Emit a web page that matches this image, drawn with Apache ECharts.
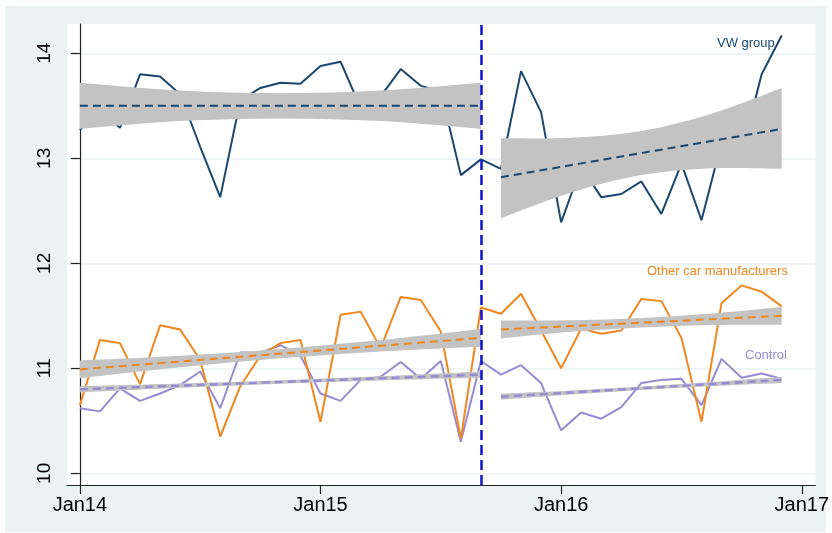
<!DOCTYPE html>
<html>
<head>
<meta charset="utf-8">
<script src="https://cdn.jsdelivr.net/npm/echarts@6/dist/echarts.min.js"></script>
<style>
html, body { margin: 0; padding: 0; background: #fff; }
#container { width: 832px; height: 533px; }
</style>
</head>
<body>
<div id="container"></div>
<script>
// months since Jan14 (0 = Jan14 ... 35 = Dec16)
var months = [0, 1, 2, 3, 4, 5, 6, 7, 8, 9, 10, 11, 12, 13, 14, 15, 16, 17,
              18, 19, 20, 21, 22, 23, 24, 25, 26, 27, 28, 29, 30, 31, 32, 33, 34, 35];

var vwGroup = [13.27, 13.45, 13.29, 13.80, 13.78, 13.61, 13.11, 12.63, 13.55, 13.67, 13.72, 13.71,
               13.88, 13.92, 13.48, 13.59, 13.85, 13.69, 13.64, 12.84, 12.99, 12.90, 13.83, 13.44,
               12.39, 12.92, 12.63, 12.66, 12.78, 12.47, 12.95, 12.41, 13.15, 13.05, 13.80, 14.17];

var otherCars = [10.65, 11.27, 11.24, 10.85, 11.41, 11.37, 11.08, 10.35, 10.83, 11.12, 11.24, 11.27,
                 10.49, 11.51, 11.54, 11.19, 11.68, 11.65, 11.35, 10.33, 11.58, 11.52, 11.71, 11.36,
                 11.00, 11.38, 11.33, 11.36, 11.66, 11.64, 11.29, 10.49, 11.62, 11.79, 11.73, 11.59];

var control = [10.62, 10.59, 10.81, 10.69, 10.76, 10.84, 10.97, 10.62, 11.15, 11.15, 11.22, 11.12,
               10.76, 10.69, 10.89, 10.92, 11.06, 10.90, 11.07, 10.30, 11.07, 10.94, 11.03, 10.86,
               10.41, 10.58, 10.52, 10.63, 10.86, 10.89, 10.90, 10.65, 11.09, 10.91, 10.95, 10.90];

// linear fits: [start month, end month] and fitted values at them
var preMonths = [0, 20];
var postMonths = [21, 35];
var vwPreFit = [13.50, 13.50];
var vwPostFit = [12.82, 13.28];
var otherPreFit = [10.99, 11.29];
var otherPostFit = [11.37, 11.50];
var controlPreFit = [10.80, 10.94];
var controlPostFit = [10.73, 10.89];

// confidence bands, read at these months
var preBandMonths = [0, 5, 10, 15, 20];
var postBandMonths = [21, 24.5, 28, 31.5, 35];
var vwPreLo = [13.28, 13.355, 13.38, 13.355, 13.28];
var vwPreHi = [13.72, 13.645, 13.62, 13.645, 13.72];
var vwPostLo = [12.43, 12.675, 12.84, 12.905, 12.90];
var vwPostHi = [13.19, 13.195, 13.26, 13.425, 13.67];
var otherPreLo = [10.905, 11.01, 11.095, 11.16, 11.205];
var otherPreHi = [11.075, 11.12, 11.185, 11.27, 11.375];
var otherPostLo = [11.285, 11.348, 11.39, 11.413, 11.415];
var otherPostHi = [11.455, 11.458, 11.48, 11.523, 11.585];
var controlPreLo = [10.77, 10.815, 10.853, 10.885, 10.91];
var controlPreHi = [10.83, 10.855, 10.887, 10.925, 10.97];
var controlPostLo = [10.70, 10.75, 10.793, 10.83, 10.86];
var controlPostHi = [10.76, 10.79, 10.827, 10.87, 10.92];

var scandalMonth = 20; // Sep15

var xTickValues = [0, 12, 24, 36];
var xTickLabels = ['Jan14', 'Jan15', 'Jan16', 'Jan17'];
var yTickValues = [10, 11, 12, 13, 14];

var navy = '#1a476f';
var orange = '#f0861d';
var purple = '#968bd3';
var bandGray = '#c3c3c3';
var font = '"Liberation Sans", Arial, Helvetica, sans-serif';

var bands = [
    [preBandMonths, vwPreLo, vwPreHi],
    [postBandMonths, vwPostLo, vwPostHi],
    [preBandMonths, otherPreLo, otherPreHi],
    [postBandMonths, otherPostLo, otherPostHi],
    [preBandMonths, controlPreLo, controlPreHi],
    [postBandMonths, controlPostLo, controlPostHi]
];

function pairs(xs, ys) {
    return xs.map(function (x, i) { return [x, ys[i]]; });
}

// smooth path through pixel points (catmull-rom as cubic beziers)
function curve(p, start) {
    var d = start ? 'M' + p[0][0] + ',' + p[0][1] : 'L' + p[0][0] + ',' + p[0][1];
    for (var i = 0; i < p.length - 1; i++) {
        var a = p[Math.max(i - 1, 0)], b = p[i], c = p[i + 1], e = p[Math.min(i + 2, p.length - 1)];
        var c1 = [b[0] + (c[0] - a[0]) / 6, b[1] + (c[1] - a[1]) / 6];
        var c2 = [c[0] - (e[0] - b[0]) / 6, c[1] - (e[1] - b[1]) / 6];
        d += 'C' + c1[0] + ',' + c1[1] + ' ' + c2[0] + ',' + c2[1] + ' ' + c[0] + ',' + c[1];
    }
    return d;
}

function rawLine(name, ys, color) {
    return {
        name: name, type: 'line', data: pairs(months, ys), z: 2,
        symbol: 'none', silent: true,
        lineStyle: { color: color, width: 2 }
    };
}

function fitLine(xs, ys, color, width) {
    return {
        type: 'line', data: pairs(xs, ys), symbol: 'none', silent: true, z: 5,
        lineStyle: { color: color, width: width, type: [8, 5] }
    };
}

var dom = document.getElementById('container');
var myChart = echarts.init(dom, null, { renderer: 'canvas' });

var series = [
    rawLine('Control', control, purple),
    rawLine('Other car manufacturers', otherCars, orange),
    rawLine('VW group', vwGroup, navy),
    {
        type: 'custom', silent: true, z: 4,
        data: bands.map(function (b, i) { return [b[0][0], b[1][0], i]; }),
        renderItem: function (params, api) {
            var b = bands[api.value(2)];
            var hi = b[0].map(function (x, i) { return api.coord([x, b[2][i]]); });
            var lo = b[0].map(function (x, i) { return api.coord([x, b[1][i]]); }).reverse();
            return {
                type: 'path',
                shape: { pathData: curve(hi, true) + curve(lo, false) + 'Z' },
                style: { fill: bandGray, stroke: null }
            };
        }
    },
    fitLine(preMonths, vwPreFit, navy, 2),
    fitLine(postMonths, vwPostFit, navy, 2),
    fitLine(preMonths, otherPreFit, orange, 2),
    fitLine(postMonths, otherPostFit, orange, 2),
    fitLine(preMonths, controlPreFit, purple, 2.4),
    fitLine(postMonths, controlPostFit, purple, 2.4),
    {
        type: 'line', data: [], silent: true, z: 10,
        markLine: {
            symbol: 'none', silent: true, label: { show: false },
            lineStyle: { color: '#1212cc', width: 2.5, type: [10, 5] },
            data: [{ xAxis: scandalMonth }]
        }
    }
];

var option = {
    backgroundColor: '#fff',
    animation: false,
    graphic: [
        { type: 'rect', z: -100, shape: { x: 5, y: 6, width: 821, height: 526 }, style: { fill: '#eaf2f3' } },
        { type: 'text', z: 100, left: 717, top: 37, style: { text: 'VW group', fill: navy, font: '13px ' + font } },
        { type: 'text', z: 100, left: 647, top: 265, style: { text: 'Other car manufacturers', fill: orange, font: '13px ' + font } },
        { type: 'text', z: 100, left: 745, top: 349, style: { text: 'Control', fill: purple, font: '13px ' + font } }
    ],
    grid: {
        left: 67, top: 24, right: 9, bottom: 48,
        show: true, backgroundColor: '#fff', borderWidth: 0
    },
    xAxis: {
        type: 'value', min: -0.642, max: 36.68,
        axisLine: { show: true, lineStyle: { color: '#222', width: 1.2 } },
        axisTick: { show: true, length: 9, customValues: xTickValues, lineStyle: { color: '#222', width: 1.2 } },
        axisLabel: {
            customValues: xTickValues, fontSize: 20, color: '#000', fontFamily: font, margin: 10,
            formatter: function (v) { return xTickLabels[xTickValues.indexOf(v)]; }
        },
        splitLine: { show: false }
    },
    yAxis: {
        type: 'value', min: 9.889, max: 14.279,
        axisLine: { show: true, lineStyle: { color: '#222', width: 1.2 } },
        axisTick: { show: true, length: 9, customValues: yTickValues, lineStyle: { color: '#222', width: 1.2 } },
        axisLabel: {
            customValues: yTickValues, rotate: 90, fontSize: 19, color: '#000', fontFamily: font, margin: 13,
            formatter: function (v) { return String(v); }
        },
        splitLine: { show: true, lineStyle: { color: '#eaf2f3', width: 1.5 } }
    },
    series: series
};

myChart.setOption(option);
window.addEventListener('resize', myChart.resize);
</script>
</body>
</html>
